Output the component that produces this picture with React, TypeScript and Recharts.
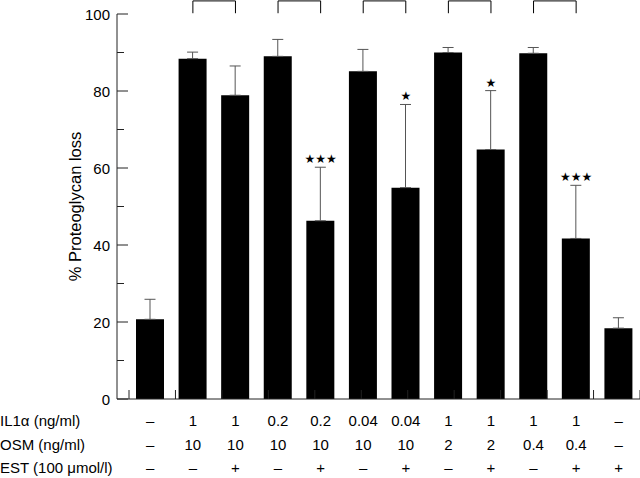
import React from 'react';
import {
  Bar,
  ComposedChart,
  ErrorBar,
  LabelList,
  Line,
  ReferenceLine,
  XAxis,
  YAxis,
} from 'recharts';

// one entry per bar, left to right
const groups = ['g1', 'g2', 'g3', 'g4', 'g5', 'g6', 'g7', 'g8', 'g9', 'g10', 'g11', 'g12'];
const loss = [20.7, 88.4, 78.9, 89.0, 46.3, 85.1, 54.9, 90.0, 64.8, 89.8, 41.7, 18.4];
const lossErr = [5.2, 1.7, 7.6, 4.4, 13.9, 5.7, 21.6, 1.3, 15.3, 1.5, 13.8, 2.7];
const stars = ['', '', '', '', '★★★', '', '★', '', '★', '', '★★★', ''];

const il1Row = ['–', '1', '1', '0.2', '0.2', '0.04', '0.04', '1', '1', '1', '1', '–'];
const osmRow = ['–', '10', '10', '10', '10', '10', '10', '2', '2', '0.4', '0.4', '–'];
const estRow = ['–', '–', '+', '–', '+', '–', '+', '–', '+', '–', '+', '+'];
const rowLabels = ['IL1α (ng/ml)', 'OSM (ng/ml)', 'EST (100 μmol/l)'];

const yTicks = [0, 10, 20, 30, 40, 50, 60, 70, 80, 90, 100];
// band edges between the bars (0 .. 12)
const bandEdges = groups.map((_, i) => i).concat(groups.length);
const bracketPairs = [
  ['g2', 'g3'],
  ['g4', 'g5'],
  ['g6', 'g7'],
  ['g8', 'g9'],
  ['g10', 'g11'],
];
const bracketLow = 100.2;
const bracketHigh = 103.4;

const data = groups.map((g, i) => ({
  group: g,
  loss: loss[i],
  err: [0, lossErr[i]],
  top: loss[i] + lossErr[i],
  sig: stars[i],
}));

const FONT = '"Liberation Sans", Arial, sans-serif';
const PAD_LEFT = 12;
const CAT_HEIGHT = 78;
const INK = '#222';

function YTick({ x, y, payload }: any) {
  const axisX = x + 7;
  const major = payload.value % 20 === 0;
  return (
    <g>
      <line x1={axisX} x2={axisX + (major ? 11 : 7)} y1={y} y2={y} stroke={INK} strokeWidth={1} />
      {major && (
        <text x={x} y={y} textAnchor="end" dominantBaseline="central" fontSize={15} fontFamily={FONT} fill="#000">
          {payload.value}
        </text>
      )}
    </g>
  );
}

// the edges axis is laid out below the category axis, so lift its ticks back to the baseline
function EdgeTick({ x, y, index }: any) {
  const px = index === bandEdges.length - 1 ? x - 0.5 : x;
  const base = y - CAT_HEIGHT;
  return <line x1={px} x2={px} y1={base} y2={base - 9} stroke={INK} strokeWidth={1} />;
}

function XTick({ x, y, index }: any) {
  const rows = [il1Row, osmRow, estRow];
  return (
    <g>
      {rows.map((row, r) => (
        <text
          key={r}
          x={x}
          y={y + 21.5 + r * 23.7}
          textAnchor="middle"
          dominantBaseline="central"
          fontSize={15}
          fontFamily={FONT}
          fill="#000"
        >
          {row[index]}
        </text>
      ))}
      {index === 0 &&
        rowLabels.map((label, r) => (
          <text
            key={label}
            x={0}
            y={y + 21.5 + r * 23.7}
            textAnchor="start"
            dominantBaseline="central"
            fontSize={15}
            fontFamily={FONT}
            fill="#000"
          >
            {label}
          </text>
        ))}
    </g>
  );
}

function StarLabel({ x, y, value }: any) {
  if (!value) return null;
  return (
    <text x={x} y={y - 8} textAnchor="middle" dominantBaseline="central" fontSize={12} fontFamily='"DejaVu Sans"' fill="#000">
      {value}
    </text>
  );
}

export default function App() {
  return (
    <div style={{ position: 'absolute', left: 0, top: 0, background: '#fff' }}>
      <ComposedChart width={640} height={478} data={data} margin={{ top: 14, right: 0, bottom: 0, left: 0 }}>
        <XAxis
          xAxisId="cat"
          dataKey="group"
          height={CAT_HEIGHT}
          padding={{ left: PAD_LEFT, right: 0 }}
          axisLine={{ stroke: INK, strokeWidth: 1 }}
          tickLine={false}
          tickSize={0}
          tickMargin={0}
          tick={<XTick />}
          interval={0}
        />
        <XAxis
          xAxisId="edges"
          type="number"
          domain={[0, groups.length]}
          ticks={bandEdges}
          allowDataOverflow
          height={1}
          padding={{ left: PAD_LEFT, right: 0 }}
          axisLine={false}
          tickLine={false}
          tickSize={0}
          tickMargin={0}
          tick={<EdgeTick />}
          interval={0}
        />
        <YAxis
          domain={[0, 100]}
          ticks={yTicks}
          width={117}
          axisLine={{ stroke: INK, strokeWidth: 1 }}
          tickLine={false}
          tickSize={0}
          tickMargin={7}
          tick={<YTick />}
          interval={0}
          label={{
            value: '% Proteoglycan loss',
            angle: -90,
            position: 'insideLeft',
            dx: 70,
            fontSize: 16.5,
            fontFamily: FONT,
            fill: '#000',
            textAnchor: 'middle',
          }}
        />
        <Bar xAxisId="cat" dataKey="loss" fill="#000" barSize={28} isAnimationActive={false}>
          <ErrorBar dataKey="err" width={5.5} stroke="#555" strokeWidth={1} direction="y" isAnimationActive={false} />
        </Bar>
        <Line xAxisId="cat" dataKey="top" stroke="none" dot={false} activeDot={false} isAnimationActive={false}>
          <LabelList dataKey="sig" content={<StarLabel />} />
        </Line>
        {bracketPairs.map(([a, b]) => (
          <ReferenceLine
            key={`h-${a}`}
            xAxisId="cat"
            segment={[{ x: a, y: bracketHigh }, { x: b, y: bracketHigh }]}
            stroke="#000"
            strokeWidth={1}
            ifOverflow="visible"
          />
        ))}
        {bracketPairs.flat().map((g) => (
          <ReferenceLine
            key={`v-${g}`}
            xAxisId="cat"
            segment={[{ x: g, y: bracketLow }, { x: g, y: bracketHigh }]}
            stroke="#000"
            strokeWidth={1}
            ifOverflow="visible"
          />
        ))}
      </ComposedChart>
    </div>
  );
}
